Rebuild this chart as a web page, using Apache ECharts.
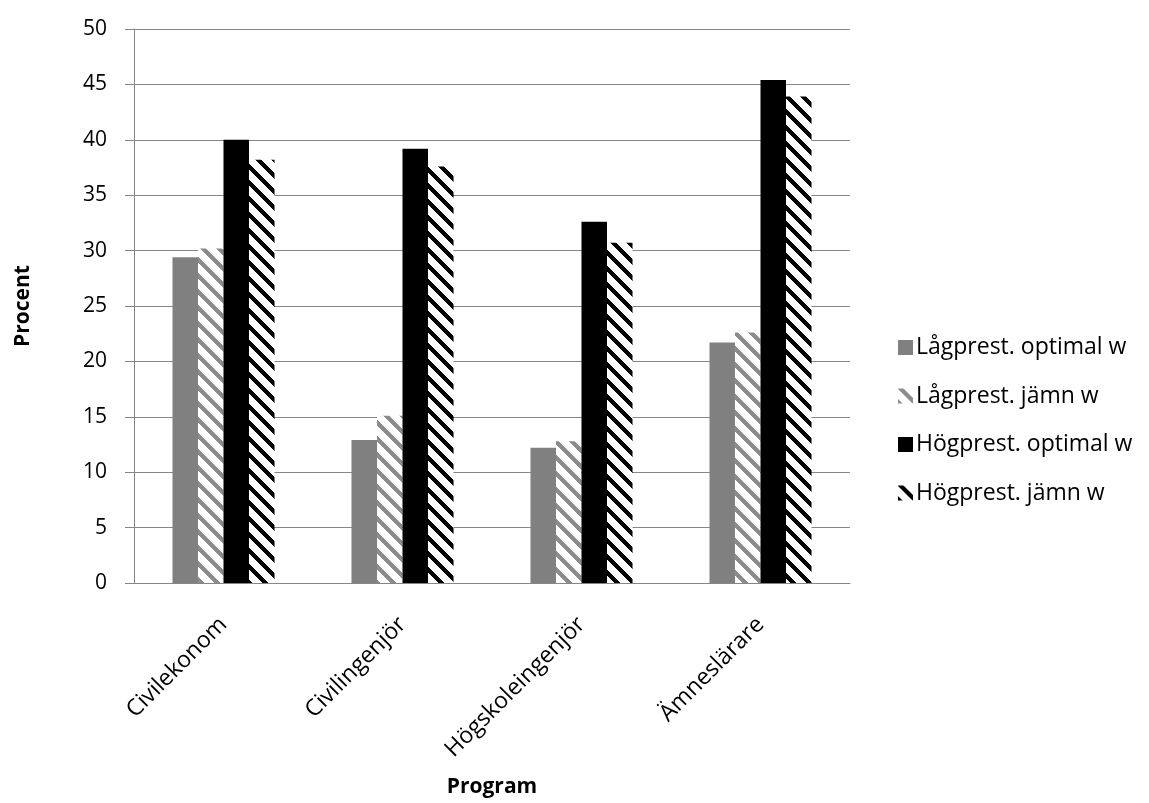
<!DOCTYPE html>
<html>
<head>
<meta charset="utf-8">
<script src="https://cdn.jsdelivr.net/npm/echarts@6/dist/echarts.min.js"></script>
<style>
  html, body { margin: 0; padding: 0; background: #fff; }
  #chart { width: 1149px; height: 803px; }
</style>
</head>
<body>
<div id="chart"></div>
<script>
// Program categories and the share (%) for each weighting scheme
const categories = ['Civilekonom', 'Civilingenjör', 'Högskoleingenjör', 'Ämneslärare'];
const seriesNames = ['Lågprest. optimal w', 'Lågprest. jämn w', 'Högprest. optimal w', 'Högprest. jämn w'];
const lowOptimal  = [29.4, 12.9, 12.2, 21.7];
const lowEven     = [30.2, 15.1, 12.8, 22.6];
const highOptimal = [40.0, 39.2, 32.6, 45.4];
const highEven    = [38.2, 37.6, 30.7, 43.9];
const yTicks = [0, 5, 10, 15, 20, 25, 30, 35, 40, 45, 50];

// Downward diagonal hatch ("\") drawn pixel by pixel on a small tile
function hatch(color) {
  const size = 16, w = 6;
  const c = document.createElement('canvas');
  c.width = size; c.height = size;
  const ctx = c.getContext('2d');
  ctx.fillStyle = '#ffffff';
  ctx.fillRect(0, 0, size, size);
  ctx.fillStyle = color;
  for (let y = 0; y < size; y++) {
    for (let x = 0; x < size; x++) {
      const d = ((x - y) % size + size) % size;
      if (d < w) ctx.fillRect(x, y, 1, 1);
    }
  }
  return { image: c, repeat: 'repeat' };
}

const FONT = '"Open Sans", sans-serif';
const GRID_COLOR = '#868686';

const chart = echarts.init(document.getElementById('chart'), null, { renderer: 'canvas' });

const styles = [
  { color: '#808080' },
  { color: hatch('#8c8c8c') },
  { color: '#000000' },
  { color: hatch('#000000') }
];
const values = [lowOptimal, lowEven, highOptimal, highEven];

chart.setOption({
  animation: false,
  backgroundColor: '#ffffff',
  textStyle: { fontFamily: FONT, color: '#000' },
  grid: { left: 134, right: 299, top: 29, bottom: 220, containLabel: false, outerBoundsMode: 'none' },
  legend: {
    orient: 'vertical',
    left: 893,
    top: 331,
    itemWidth: 15,
    itemHeight: 15,
    itemGap: 25.5,
    icon: 'rect',
    data: seriesNames,
    textStyle: { fontFamily: FONT, fontSize: 23, color: '#000', lineHeight: 22, padding: [0, 0, 0, -2] }
  },
  xAxis: {
    type: 'category',
    data: categories,
    name: 'Program',
    nameLocation: 'middle',
    nameGap: 194,
    nameTextStyle: { fontFamily: FONT, fontSize: 21, fontWeight: 'bold', color: '#000' },
    axisLine: { lineStyle: { color: GRID_COLOR, width: 1 } },
    axisTick: { show: false },
    axisLabel: { rotate: 45, fontSize: 23, color: '#000', fontFamily: FONT, margin: 38 }
  },
  yAxis: {
    type: 'value',
    min: yTicks[0],
    max: yTicks[yTicks.length - 1],
    interval: yTicks[1] - yTicks[0],
    name: 'Procent',
    nameLocation: 'middle',
    nameGap: 100,
    nameRotate: 90,
    nameTextStyle: { fontFamily: FONT, fontSize: 21, fontWeight: 'bold', color: '#000' },
    axisLine: { show: true, lineStyle: { color: GRID_COLOR, width: 1 } },
    axisTick: { show: true, length: 9, lineStyle: { color: GRID_COLOR } },
    axisLabel: { fontSize: 21, color: '#000', fontFamily: FONT, margin: 27 },
    splitLine: { show: true, lineStyle: { color: GRID_COLOR, width: 1 } }
  },
  series: seriesNames.map((name, i) => ({
    name,
    type: 'bar',
    data: values[i],
    barGap: '0%',
    barCategoryGap: '43%',
    itemStyle: styles[i]
  }))
});
</script>
</body>
</html>
